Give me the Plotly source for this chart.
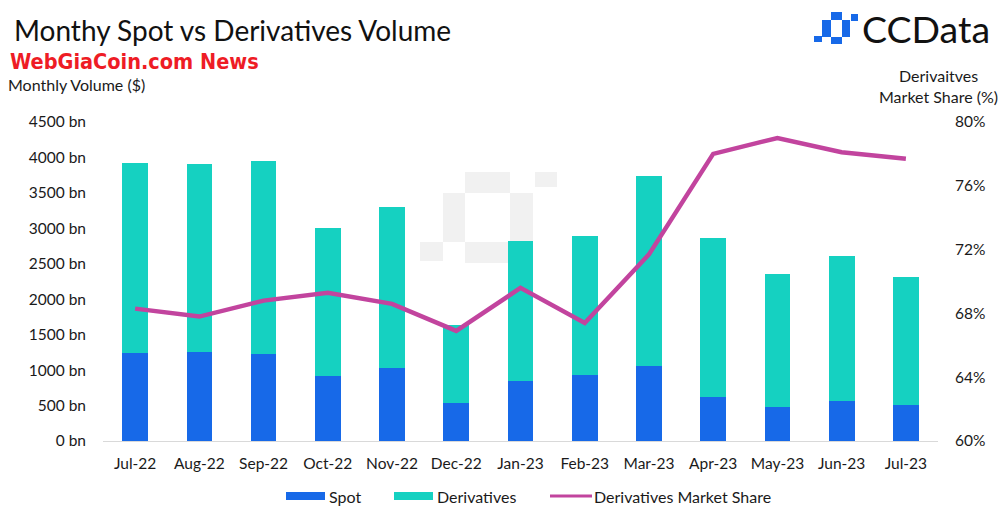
import plotly.graph_objects as go

months = ["Jul-22", "Aug-22", "Sep-22", "Oct-22", "Nov-22", "Dec-22", "Jan-23",
          "Feb-23", "Mar-23", "Apr-23", "May-23", "Jun-23", "Jul-23"]
spot = [1242, 1252, 1228, 918, 1031, 534, 848, 938, 1055, 623, 482, 567, 511]
derivatives = [2678, 2658, 2724, 2082, 2274, 1097, 1969, 1959, 2682, 2242, 1867, 2049, 1796]
market_share = [68.3, 67.8, 68.8, 69.3, 68.6, 66.9, 69.6, 67.4, 71.7, 78.0, 79.0, 78.1, 77.7]

left_ticks = [0, 500, 1000, 1500, 2000, 2500, 3000, 3500, 4000, 4500]
right_ticks = [60, 64, 68, 72, 76, 80]

BLUE = "#1769e8"
TEAL = "#15d1c1"
MAGENTA = "#c2449e"
FONT = "Lato, Noto Sans, sans-serif"
TXT = "#1a1a1a"

W, H = 1005, 508
PX0, PX1, PY0, PY1 = 103, 938, 122, 441   # plot area in reference pixels


def xp(px):
    return (px - PX0) / (PX1 - PX0)


def yp(py):
    return (PY1 - py) / (PY1 - PY0)


fig = go.Figure()
fig.add_trace(go.Bar(x=months, y=spot, name="Spot", marker_color=BLUE,
                     marker_line_width=0))
fig.add_trace(go.Bar(x=months, y=derivatives, name="Derivatives", marker_color=TEAL,
                     marker_line_width=0))
fig.add_trace(go.Scatter(x=months, y=market_share, name="Derivatives Market Share",
                         mode="lines", line=dict(color=MAGENTA, width=4.5),
                         yaxis="y2"))

shapes = []
annotations = []


def rect(x0, y0, x1, y1, color, layer="above"):
    shapes.append(dict(type="rect", xref="paper", yref="paper",
                       x0=xp(x0), x1=xp(x1), y0=yp(y1), y1=yp(y0),
                       fillcolor=color, line=dict(width=0), layer=layer))


def text(px, py, s, size, color=TXT, anchor="left", family=FONT, weight=None):
    f = dict(size=size, color=color, family=family)
    if weight:
        f["weight"] = weight
    annotations.append(dict(x=xp(px), y=yp(py), xref="paper", yref="paper",
                            text=s, showarrow=False, xanchor=anchor,
                            yanchor="middle", font=f))


# watermark (behind bars)
WM = "#f1f1f1"
rect(465, 172, 510, 193, WM, "below")
rect(535, 172, 557, 187, WM, "below")
rect(443, 193, 465, 242, WM, "below")
rect(510, 193, 533, 242, WM, "below")
rect(465, 242, 510, 263, WM, "below")
rect(420, 242, 443, 261, WM, "below")

# CCData logo icon
rect(831, 12, 842, 20, BLUE)
rect(851, 14, 858, 21, BLUE)
rect(822, 20, 831, 37, BLUE)
rect(842, 20, 850, 37, BLUE)
rect(831, 37, 842, 44, BLUE)
rect(814, 36, 822, 42, BLUE)
text(860, 29, "CCData", 37.5, color="#111111")

# titles
text(12, 30, "Monthy Spot vs Derivatives Volume", 28, color="#111111")
text(8, 61, "WebGiaCoin.com News", 21.5, color="#ee1c25",
     family="Liberation Sans Narrow, DejaVu Sans Condensed, sans-serif", weight="bold")
text(6, 85, "Monthly Volume ($)", 16)
text(938, 76, "Derivaitves", 16, anchor="center")
text(938, 96, "Market Share (%)", 16, anchor="center")

# custom legend
rect(286, 492, 325, 500, BLUE)
text(327, 496, "Spot", 16)
rect(394, 492, 433, 500, TEAL)
text(435, 496, "Derivatives", 16)
shapes.append(dict(type="line", xref="paper", yref="paper",
                   x0=xp(550), x1=xp(592), y0=yp(496), y1=yp(496),
                   line=dict(color=MAGENTA, width=3)))
text(592, 496, "Derivatives Market Share", 16)

fig.update_layout(
    width=W, height=H,
    margin=dict(l=PX0, r=W - PX1, t=PY0, b=H - PY1, pad=0),
    paper_bgcolor="white", plot_bgcolor="white",
    barmode="stack", bargap=0.6,
    showlegend=False,
    font=dict(family=FONT, size=15.5, color=TXT),
    xaxis=dict(showgrid=False, showline=True, linecolor="#d9d9d9", linewidth=1,
               ticks="", tickfont=dict(size=15.5, color=TXT),
               ticklabelstandoff=8, zeroline=False),
    yaxis=dict(range=[0, 4500], tickvals=left_ticks,
               ticktext=[f"{v} bn" for v in left_ticks],
               showgrid=False, zeroline=False, showline=False,
               tickfont=dict(size=15.5, color=TXT), ticklabelstandoff=16),
    yaxis2=dict(range=[60, 80], tickvals=right_ticks,
                ticktext=[f"{v}%" for v in right_ticks],
                overlaying="y", side="right", showgrid=False, zeroline=False,
                showline=False, tickfont=dict(size=15.5, color=TXT),
                ticklabelstandoff=16),
    shapes=shapes,
    annotations=annotations,
)

fig.write_html(
    "out.html",
    config={"displayModeBar": False},
    post_script="document.body.style.margin='0';document.body.style.overflow='hidden';",
)
